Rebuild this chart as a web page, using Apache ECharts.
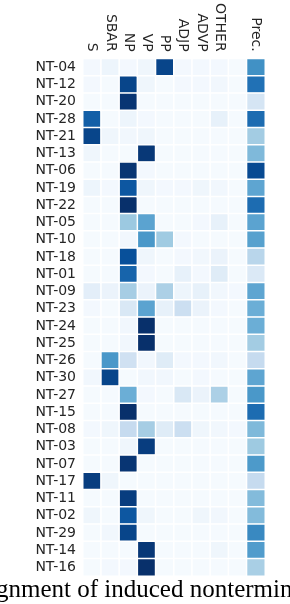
<!DOCTYPE html>
<html>
<head>
<meta charset="utf-8">
<script src="https://cdn.jsdelivr.net/npm/echarts@6/dist/echarts.min.js"></script>
<style>
html,body{margin:0;padding:0;background:#fff;}
#chart{width:290px;height:604px;}
</style>
</head>
<body>
<div id="chart"></div>
<script>
var columns = ["S", "SBAR", "NP", "VP", "PP", "ADJP", "ADVP", "OTHER", "", "Prec."];
var rows = ["NT-04","NT-12","NT-20","NT-28","NT-21","NT-13","NT-06","NT-19","NT-22","NT-05",
            "NT-10","NT-18","NT-01","NT-09","NT-23","NT-24","NT-25","NT-26","NT-30","NT-27",
            "NT-15","NT-08","NT-03","NT-07","NT-17","NT-11","NT-02","NT-29","NT-14","NT-16"];

var sVals     = [.02,.02,.01,.82,.92,.04,.01,.05,.01,.01,.01,.01,.01,.10,.02,.01,.01,.01,.03,.01,.01,.02,.01,.01,.95,.01,.04,.01,.01,.01];
var sbarVals  = [.05,.01,.01,.01,.04,.01,.01,.02,.01,.01,.01,.01,.01,.06,.01,.01,.01,.60,.92,.01,.01,.04,.01,.01,.04,.01,.01,.03,.01,.02];
var npVals    = [.02,.92,.98,.05,.03,.01,.98,.85,1.0,.38,.03,.88,.80,.35,.15,.03,.03,.20,.01,.50,1.0,.25,.04,.98,.01,.95,.85,.92,.01,.02];
var vpVals    = [.04,.04,.01,.02,.04,.97,.02,.04,.01,.55,.60,.04,.02,.06,.55,1.0,1.0,.03,.03,.02,.01,.35,.95,.01,.01,.01,.04,.01,.97,1.0];
var ppVals    = [.92,.01,.01,.01,.01,.01,.01,.02,.01,.01,.37,.01,.01,.33,.08,.01,.01,.12,.03,.01,.01,.12,.01,.01,.01,.01,.01,.01,.01,.01];
var adjpVals  = [.02,.02,.01,.01,.01,.01,.01,.02,.01,.01,.02,.02,.08,.05,.22,.01,.01,.02,.01,.15,.01,.22,.01,.01,.01,.01,.01,.01,.01,.01];
var advpVals  = [.02,.02,.01,.01,.01,.01,.01,.04,.01,.02,.01,.03,.02,.08,.06,.01,.01,.02,.02,.06,.01,.04,.01,.01,.01,.01,.04,.01,.01,.01];
var otherVals = [.02,.03,.01,.08,.01,.01,.01,.03,.01,.08,.01,.06,.12,.03,.02,.01,.01,.03,.01,.33,.01,.03,.01,.01,.01,.01,.03,.01,.04,.01];
var blankVals = [.01,.01,.01,.01,.01,.01,.01,.01,.01,.01,.01,.01,.01,.02,.01,.01,.01,.01,.01,.01,.01,.02,.01,.01,.01,.01,.01,.01,.01,.01];
var precVals  = [.63,.75,.17,.77,.36,.45,.90,.54,.77,.55,.56,.29,.14,.54,.50,.50,.36,.25,.54,.60,.77,.45,.375,.59,.25,.44,.44,.66,.58,.34];

var caption = "gnment of induced nontermin";

var colVals = [sVals, sbarVals, npVals, vpVals, ppVals, adjpVals, advpVals, otherVals, blankVals, precVals];
var data = [];
for (var c = 0; c < colVals.length; c++) {
  for (var r = 0; r < rows.length; r++) {
    data.push([c, r, colVals[c][r]]);
  }
}

var chart = echarts.init(document.getElementById('chart'), null, {renderer: 'canvas'});
chart.setOption({
  animation: false,
  backgroundColor: '#ffffff',
  grid: {left: 83, right: 25, top: 55, bottom: 28, containLabel: false},
  xAxis: {
    type: 'category',
    data: columns,
    position: 'top',
    axisLine: {show: false},
    axisTick: {show: false},
    splitLine: {show: false},
    axisLabel: {rotate: 90, fontSize: 14, color: '#262626', fontFamily: 'DejaVu Sans', margin: 7, interval: 0}
  },
  yAxis: {
    type: 'category',
    data: rows,
    inverse: true,
    axisLine: {show: false},
    axisTick: {show: false},
    splitLine: {show: false},
    axisLabel: {fontSize: 14, color: '#262626', fontFamily: 'DejaVu Sans', margin: 7, interval: 0}
  },
  visualMap: {
    show: false,
    min: 0,
    max: 1,
    inRange: {color: ['#f7fbff','#deebf7','#c6dbef','#9ecae1','#6baed6','#4292c6','#2171b5','#08519c','#08306b']}
  },
  series: [{
    type: 'heatmap',
    data: data,
    itemStyle: {borderColor: '#ffffff', borderWidth: 1.5},
    emphasis: {disabled: true},
    label: {show: false}
  }],
  graphic: [
    {type: 'text', left: -4, top: 578, style: {text: caption, font: '25px "Liberation Serif"', fill: '#000'}}
  ]
});
</script>
</body>
</html>
